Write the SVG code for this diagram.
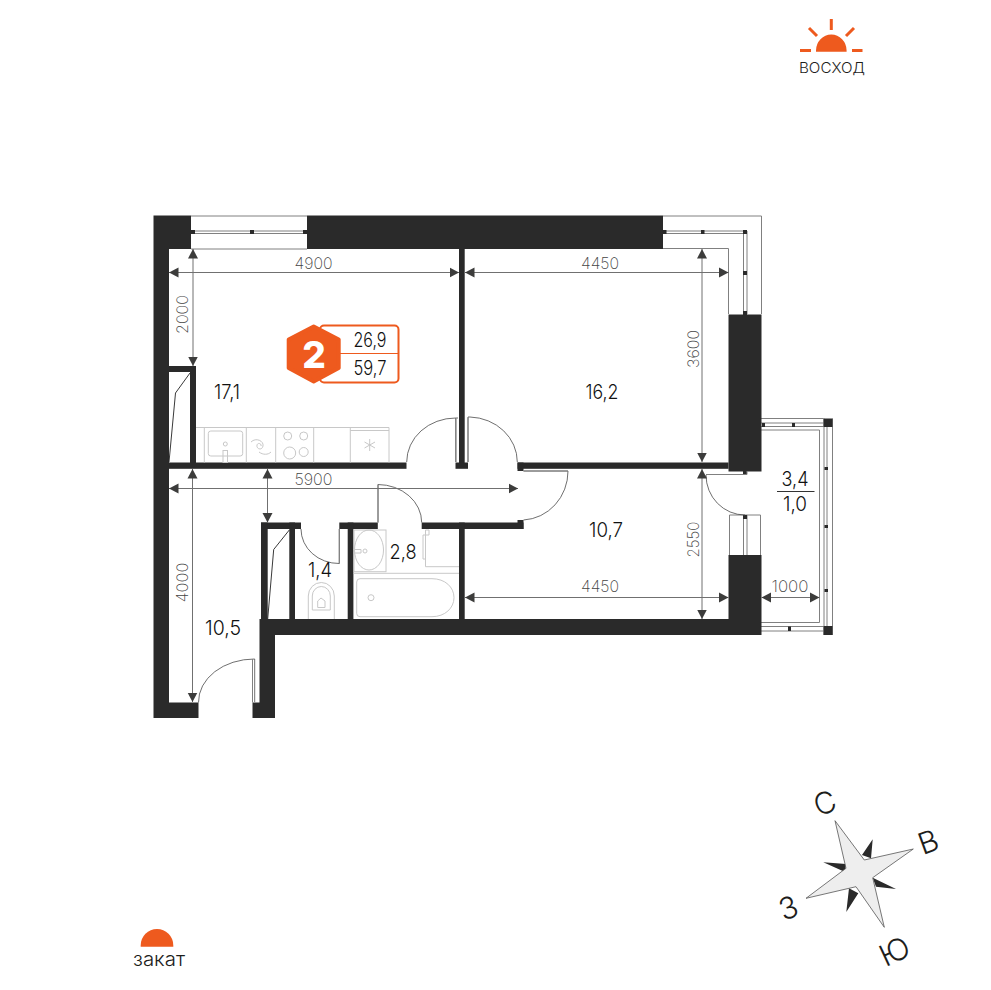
<svg xmlns="http://www.w3.org/2000/svg" width="991" height="990" viewBox="0 0 991 990">
<style>
text{font-family:Inter,"Noto Sans",sans-serif}
.w{fill:#2a2a2a}
.f{fill:none;stroke:#808080;stroke-width:1}
.t{fill:none;stroke:#4a4a4a;stroke-width:.8}
.k{fill:none;stroke:#c8c8c8;stroke-width:1}
.dim{fill:none;stroke:#707070;stroke-width:1;marker-start:url(#a);marker-end:url(#a)}
.d{font-size:16px;font-weight:200;fill:#444;text-anchor:middle}
.n{font-size:20.500px;font-weight:300;fill:#111;text-anchor:middle}
.b{font-size:19.500px;font-weight:300;fill:#111;text-anchor:middle}
.c{font-size:30px;font-weight:300;fill:#1d1d1b;text-anchor:middle}
.o{fill:#ee5a1e}
.r{stroke:#ee5a1e;stroke-width:3;fill:none}
</style>
<defs>
<marker id="a" markerUnits="userSpaceOnUse" markerWidth="10" markerHeight="11" refX="9.500" refY="5.500" orient="auto-start-reverse" viewBox="0 0 10 11"><path d="M0 .5L9.500 5.500L0 10.500Z" fill="#3c3c3b"/></marker>
</defs>
<g id="windows">
<path class="f" d="M191 216H307M191 249H307M191 231H307M191 233.500H307"/>
<rect class="w" x="191" y="230" width="4" height="4"/><rect class="w" x="250" y="230" width="4" height="4"/><rect class="w" x="303" y="230" width="4" height="4"/>
<path class="f" d="M663 216H761.500V314M663 248.500H728.500V314M663 231H743.500M663 233.500H743.500M743.500 233.500V314M747 231V314"/>
<rect class="w" x="663" y="230" width="3.500" height="4"/><rect class="w" x="701" y="230" width="3.500" height="4"/><rect class="w" x="743" y="230" width="4" height="4"/><rect class="w" x="743" y="271" width="4" height="4"/><rect class="w" x="743" y="311" width="4" height="4"/>
<path class="f" d="M761 418.500H823.500M761 423H823.500M761 426.500H823.500M761 430H819.500V622.500H761M824 418.500V635M827 427V626M832.500 418.500V635M761 626.500H823.500M761 631H823.500M729.500 555V515H760.500V555M743.500 515V555M747 515V555"/>
<rect class="w" x="823.500" y="418.500" width="9" height="8.500"/><rect class="w" x="823.500" y="626" width="9" height="9"/>
<rect class="w" x="792" y="423" width="3" height="4"/><rect class="w" x="762" y="423" width="3" height="4"/><rect class="w" x="788" y="626.500" width="3" height="4.500"/>
<rect class="w" x="824.500" y="467" width="3.500" height="3"/><rect class="w" x="824.500" y="525" width="3.500" height="3"/><rect class="w" x="824.500" y="589" width="3.500" height="3"/>
<rect class="w" x="743" y="515" width="4" height="4"/>
</g>
<g id="walls">
<path class="w" d="M153.500 215.500H191V249H169V702.500H198.500V718H153.500Z"/>
<rect class="w" x="307" y="215.500" width="356" height="33.500"/>
<rect class="w" x="459" y="248" width="5.700" height="215"/>
<rect class="w" x="455.500" y="462.500" width="12.500" height="6.300"/>
<rect class="w" x="169" y="462.500" width="237.500" height="6.300"/>
<path class="w" d="M169 366H196V463H190V372H169Z"/>
<rect class="w" x="517.500" y="462.500" width="211" height="6.300"/>
<rect class="w" x="517.500" y="462.500" width="6" height="8.500"/>
<rect class="w" x="728.500" y="314.500" width="33" height="157"/>
<rect class="w" x="743" y="471" width="4" height="3"/>
<rect class="w" x="728.500" y="555" width="33" height="80"/>
<path class="w" d="M259.500 619H729V635H275V718H252.500V702.500H259.500Z"/>
<rect class="w" x="261" y="522.500" width="40" height="6.500"/>
<rect class="w" x="261" y="522.500" width="6.700" height="97"/>
<rect class="w" x="289.300" y="522.500" width="5.700" height="97"/>
<rect class="w" x="339.300" y="522.500" width="38.500" height="6.500"/>
<rect class="w" x="347.700" y="522.500" width="5.700" height="97"/>
<rect class="w" x="421.700" y="522.500" width="101.800" height="6.500"/>
<rect class="w" x="517.500" y="520" width="6" height="9"/>
<rect class="w" x="459" y="522.500" width="5.700" height="97"/>
</g>
<g id="doors">
<path class="t" d="M406.700 462A49 44 0 0 1 455.700 418V462M455.700 418H458M468 462V417H470A49 45 0 0 1 517.300 462"/>
<path class="f" d="M456 418.500V462M468 417.500V462"/>
<path class="t" d="M523.500 471H568A47 49 0 0 1 523.500 520"/>
<path class="t" d="M378 522.500V484.500A44 38 0 0 1 421.700 522.500"/>
<path class="f" d="M378 484.500V522.500M523.500 471H568"/>
<path class="t" d="M301 529A38 34.500 0 0 0 339.300 563.500V529"/>
<path class="f" d="M339.300 563.500V529"/>
<path class="t" d="M198.500 702.500A56 43 0 0 1 254.700 659V702"/>
<path class="f" d="M252.500 659V702.500"/>
<path class="t" d="M706 475A39 40 0 0 0 745 515"/>
<path class="f" d="M706 474.500H747V471"/>
<path fill="none" stroke="#222" stroke-width=".9" d="M190 373L175.500 393L169 462M289.300 530L273.700 549.500L267.700 619"/>
</g>
<g id="fixtures">
<path class="k" d="M196 427.500H389V462.500M204.300 427.500V462.500M246.300 427.500V462.500M275.700 427.500V462.500M313.700 427.500V462.500M350.300 427.500V462.500M350.300 430.500H389"/>
<rect class="k" x="208.300" y="431" width="34.400" height="25" rx="2.500"/>
<circle class="k" cx="225.300" cy="444" r="2"/>
<rect class="k" x="223" y="450.500" width="4.500" height="12"/>
<path class="k" d="M251 442C256 437 264 441 263 446C262 451 256 449 257 445C258 442 262 444 261 446M259 452C263 455 268 455 271 452"/>
<circle class="k" cx="287.700" cy="436" r="4"/><circle class="k" cx="303.700" cy="436" r="4"/><circle class="k" cx="289.700" cy="453" r="6"/><circle class="k" cx="303.700" cy="452" r="4.500"/>
<path class="k" d="M369.700 439V451M364.500 442L375 448M364.500 448L375 442"/>
<rect class="k" x="354" y="530" width="32" height="41.700"/>
<ellipse class="k" cx="369" cy="550" rx="14.500" ry="20"/>
<path class="k" d="M353.500 549.500H361V553H353.500M353.500 573.300H459"/>
<circle class="k" cx="365" cy="551" r="2"/>
<path class="k" d="M360 578.700H432C445 578.700 454 587 454 597.700C454 608 445 616.700 432 616.700H360Q356.700 616.700 356.700 613.500V582Q356.700 578.700 360 578.700Z"/>
<circle class="k" cx="371" cy="597.700" r="3"/>
<path class="k" d="M459 566.700H425.500V530M425.500 535H423V559H425.500M425.500 530H429V535H425.500"/>
<path class="k" d="M308.300 619V596A13 13.500 0 0 1 334.300 596V619"/>
<path class="k" d="M312.300 610V596A9 9.500 0 0 1 330.300 596V610Z"/>
<path class="k" d="M317.700 607.500V601L321 598L325 601V607.500Z"/>
</g>
<g id="dimensions">
<path class="dim" d="M169 272.500H459"/><text class="d" x="313.500" y="268.500" textLength="38" lengthAdjust="spacingAndGlyphs">4900</text>
<path class="dim" d="M193 249V366"/><text class="d" transform="translate(188 314.500) rotate(-90)" textLength="39" lengthAdjust="spacingAndGlyphs">2000</text>
<path class="dim" d="M465 272.500H728.500"/><text class="d" x="600" y="268.500" textLength="38" lengthAdjust="spacingAndGlyphs">4450</text>
<path class="dim" d="M702 249V462"/><text class="d" transform="translate(699 349) rotate(-90)" textLength="38" lengthAdjust="spacingAndGlyphs">3600</text>
<path class="dim" d="M169 488.500H518"/><text class="d" x="313.500" y="484.500" textLength="38" lengthAdjust="spacingAndGlyphs">5900</text>
<path class="dim" d="M192.500 469V702"/><text class="d" transform="translate(188 582.500) rotate(-90)" textLength="40" lengthAdjust="spacingAndGlyphs">4000</text>
<path class="dim" d="M267.500 469V522.500"/>
<path class="dim" d="M702 469V619"/><text class="d" transform="translate(699 539.500) rotate(-90)" textLength="36" lengthAdjust="spacingAndGlyphs">2550</text>
<path class="dim" d="M465 597.500H728.500"/><text class="d" x="600" y="591.500" textLength="38" lengthAdjust="spacingAndGlyphs">4450</text>
<path class="dim" d="M761.500 597.500H819.500"/><text class="d" x="790" y="591.500" textLength="37" lengthAdjust="spacingAndGlyphs">1000</text>
</g>
<g id="room-kitchen"><text class="n" x="227" y="398.500" textLength="26" lengthAdjust="spacingAndGlyphs">17,1</text></g>
<g id="room-bedroom"><text class="n" x="602" y="398.500" textLength="33" lengthAdjust="spacingAndGlyphs">16,2</text></g>
<g id="room-living"><text class="n" x="606" y="536.500" textLength="34" lengthAdjust="spacingAndGlyphs">10,7</text></g>
<g id="room-hall"><text class="n" x="223" y="634.500" textLength="36" lengthAdjust="spacingAndGlyphs">10,5</text></g>
<g id="room-wc"><text class="n" x="320" y="577" textLength="24" lengthAdjust="spacingAndGlyphs">1,4</text></g>
<g id="room-bath"><text class="n" x="403" y="559" textLength="27" lengthAdjust="spacingAndGlyphs">2,8</text></g>
<g id="room-balcony"><text class="n" x="795" y="486" textLength="27" lengthAdjust="spacingAndGlyphs">3,4</text><path d="M777 491.500H814.500" stroke="#333" stroke-width="1"/><text class="n" x="795" y="510.500" textLength="24" lengthAdjust="spacingAndGlyphs">1,0</text></g>
<g id="badge">
<rect x="320" y="325.500" width="78.500" height="57" rx="4" fill="#fff" stroke="#ee5a1e" stroke-width="2"/>
<path d="M335 353.500H398" stroke="#ee5a1e" stroke-width="1"/>
<path class="o" stroke="#ee5a1e" stroke-width="4" stroke-linejoin="round" d="M313.700 326.500L338.700 339.500V368L313.700 381.500L288.700 368V339.500Z"/>
<text x="314" y="368" font-size="37" font-weight="800" fill="#fff" text-anchor="middle">2</text>
<text class="b" x="370" y="347" textLength="33" lengthAdjust="spacingAndGlyphs">26,9</text>
<text class="b" x="370" y="375" textLength="33" lengthAdjust="spacingAndGlyphs">59,7</text>
</g>
<g id="sunrise">
<path class="o" d="M816 51.700V50.500A15.300 16 0 0 1 846.600 50.500V51.700Z"/>
<path class="r" d="M831.300 19V30M809 28L817 36M854 28L846 36M800 50.500H811M852 50.500H862.500"/>
<text x="832" y="73" font-size="14" font-weight="300" fill="#1d1d1b" text-anchor="middle" textLength="66" lengthAdjust="spacingAndGlyphs">ВОСХОД</text>
</g>
<g id="sunset">
<path class="o" d="M140.700 946.700V945.500A16.300 16.500 0 0 1 173.300 945.500V946.700Z"/>
<text x="159" y="966" font-size="19" font-weight="300" fill="#1d1d1b" text-anchor="middle" textLength="52" lengthAdjust="spacingAndGlyphs">закат</text>
</g>
<g id="compass">
<path class="w" d="M862 855L872.700 839.300L871 858.300ZM872.700 877.700L896 889L876 886.700ZM849 888.300L846.300 912L858.300 893.300ZM846 864L823.300 862.300L845 872Z"/>
<path fill="#eeeeee" stroke="#555" stroke-width=".8" d="M835 820.700L864.300 860L913.300 849L872.700 877.700L884.300 927.300L856 886.700L806 898.300L846 868.300Z"/>
<text class="c" transform="translate(828.500 813) rotate(-20)">С</text>
<text class="c" transform="translate(932 852) rotate(-20)">В</text>
<text class="c" transform="translate(792 918) rotate(-20)">З</text>
<text class="c" transform="translate(899 961) rotate(-25)">Ю</text>
</g>
</svg>
